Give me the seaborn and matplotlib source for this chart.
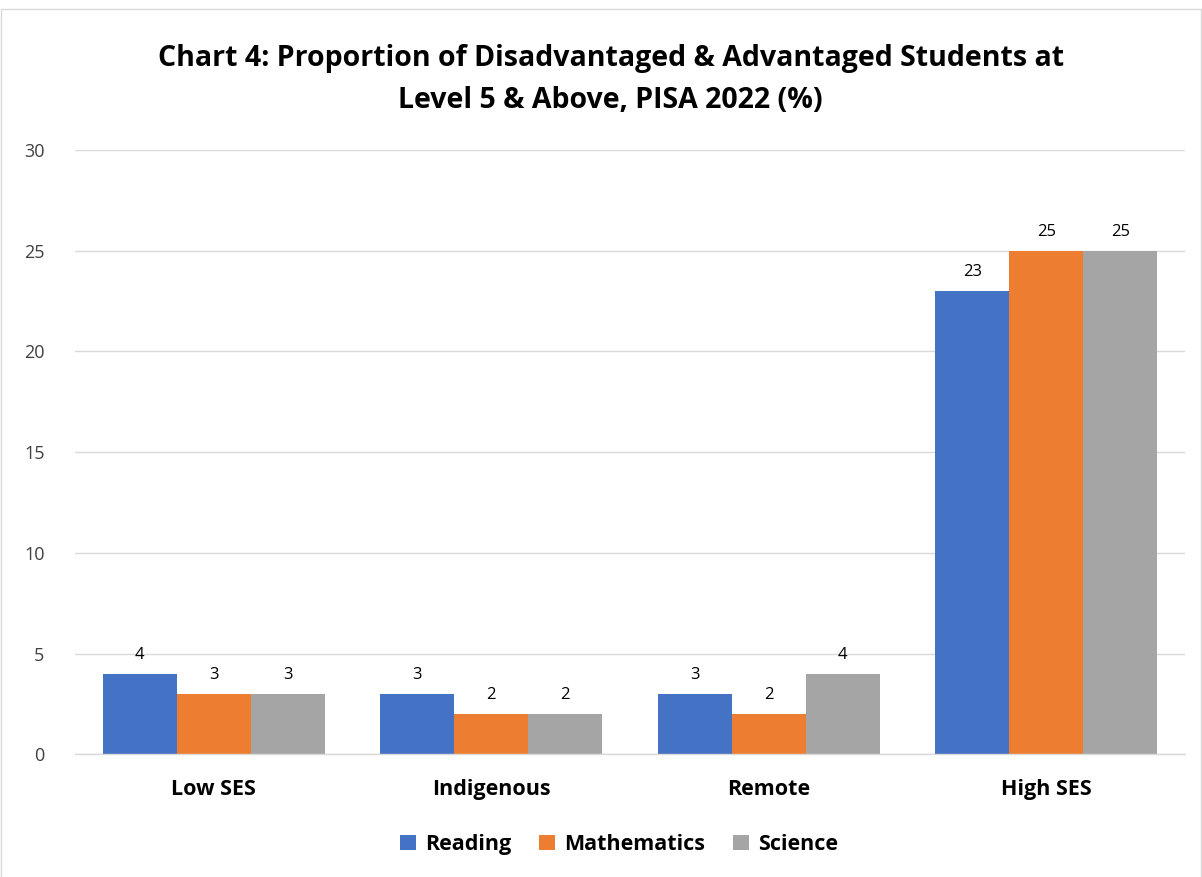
import matplotlib.pyplot as plt
import numpy as np
import pandas as pd
import seaborn as sns
from matplotlib.patches import Rectangle

sns.set_theme(style="whitegrid")
plt.rcParams['font.family'] = ['Open Sans', 'DejaVu Sans']

categories = ["Low SES", "Indigenous", "Remote", "High SES"]
subjects = ["Reading", "Mathematics", "Science"]
reading = [4, 3, 3, 23]
mathematics = [3, 2, 2, 25]
science = [3, 2, 4, 25]
colors = ["#4472C4", "#ED7D31", "#A5A5A5"]

rows = []
for subj, vals in zip(subjects, [reading, mathematics, science]):
    for cat, v in zip(categories, vals):
        rows.append({"Group": cat, "Subject": subj, "Value": v})
df = pd.DataFrame(rows)

fig = plt.figure(figsize=(12.02, 8.77), dpi=100)
ax = fig.add_axes([0.0624, 0.14, 0.9236, 0.689])

sns.barplot(data=df, x="Group", y="Value", hue="Subject", order=categories,
            hue_order=subjects, palette=colors, width=0.8, saturation=1,
            ax=ax, edgecolor="none")

for cont in ax.containers:
    ax.bar_label(cont, fmt="%d", padding=8, fontsize=12, color="#000000")

ax.set_ylim(0, 30)
ax.set_yticks(range(0, 31, 5))
ax.set_xlabel("")
ax.set_ylabel("")
ax.grid(axis="y", color="#D9D9D9", linewidth=1)
ax.grid(axis="x", visible=False)
for s in ["left", "right", "top"]:
    ax.spines[s].set_visible(False)
ax.spines["bottom"].set_color("#D9D9D9")
ax.spines["bottom"].set_linewidth(1)
ax.tick_params(axis="y", labelsize=13, labelcolor="#404040", pad=22, length=0)
ax.tick_params(axis="x", labelsize=15.5, labelcolor="#000000", pad=18, length=0)
for lbl in ax.get_xticklabels():
    lbl.set_fontweight("bold")
ax.set_facecolor("white")

fig.suptitle("Chart 4: Proportion of Disadvantaged & Advantaged Students at\nLevel 5 & Above, PISA 2022 (%)",
             x=0.508, fontsize=20.5, fontweight="bold", color="#000000", y=0.95, linespacing=1.6)

leg = ax.legend(loc="upper center", bbox_to_anchor=(0.49, -0.1), ncol=3, frameon=False,
                prop={"size": 15.5, "weight": "bold"}, handlelength=0.75, handleheight=0.75,
                handletextpad=0.4, columnspacing=1.3)
for t in leg.get_texts():
    t.set_color("#000000")

fig.patches.append(Rectangle((0.001, -0.01), 0.998, 1.0, transform=fig.transFigure,
                             fill=False, edgecolor="#D9D9D9", linewidth=1))

fig.savefig("out.png", dpi=100)
